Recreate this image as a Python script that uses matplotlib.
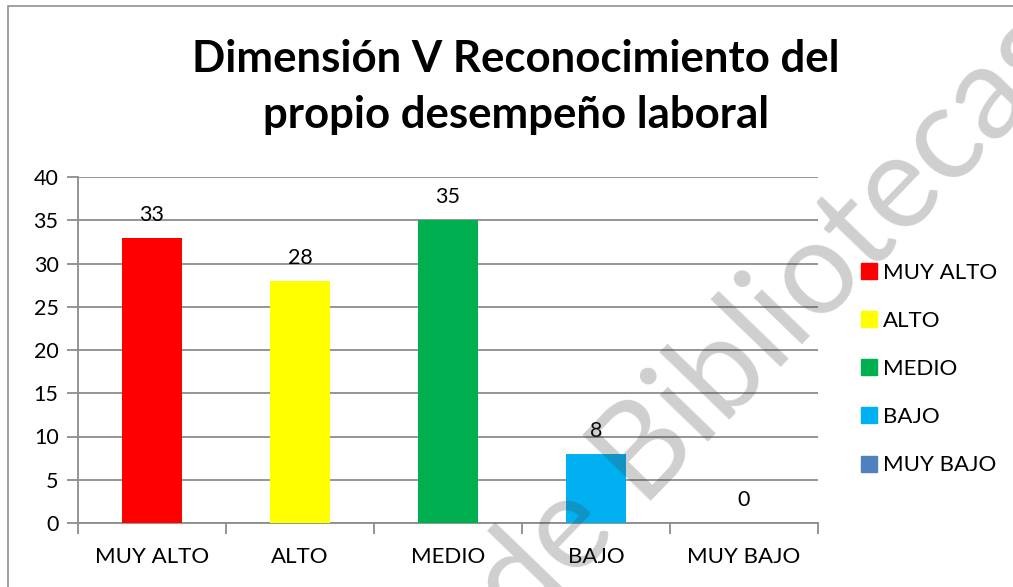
import matplotlib
matplotlib.use("Agg")
import matplotlib.pyplot as plt
from matplotlib.patches import Rectangle
from matplotlib.lines import Line2D

categories = ["MUY ALTO", "ALTO", "MEDIO", "BAJO", "MUY BAJO"]
values = [33, 28, 35, 8, 0]
colors = ["#FF0000", "#FFFF00", "#00B050", "#00B0F0", "#4F81BD"]
title = "Dimensión V Reconocimiento del\npropio desempeño laboral"
yticks = [0, 5, 10, 15, 20, 25, 30, 35, 40]

FONT = ["Lato", "DejaVu Sans"]
plt.rcParams['font.family'] = FONT

W, H = 1013, 587
fig = plt.figure(figsize=(W / 100, H / 100), dpi=100)
fig.patch.set_facecolor("white")

# outer chart border
fig.patches.append(Rectangle((8 / W, -0.1), 1.2, (1 - 6 / H) + 0.1, transform=fig.transFigure,
                             fill=False, edgecolor="#909090", linewidth=1.2))

ax = fig.add_axes([78 / W, 1 - 523 / H, (818 - 78) / W, (523 - 177) / H])
x = list(range(len(categories)))
ax.bar(x, values, width=0.4, color=colors, zorder=3)
for xi, v in zip(x, values):
    ax.text(xi, v + 1.5, str(v), ha="center", va="bottom", fontsize=15.5, color="black")

ax.set_xlim(-0.5, len(categories) - 0.5)
ax.set_ylim(0, 40)
ax.set_yticks(yticks)
ax.set_yticklabels([str(t) for t in yticks], fontsize=15.5)
ax.yaxis.grid(True, color="#8C8C8C", linewidth=1.3, zorder=0)
ax.set_axisbelow(True)
for s in ["top", "right"]:
    ax.spines[s].set_visible(False)
for s in ["left", "bottom"]:
    ax.spines[s].set_color("#8C8C8C")
    ax.spines[s].set_linewidth(1.3)
ax.tick_params(axis="y", length=8, width=1.3, color="#8C8C8C", pad=6)
ax.set_xticks([i - 0.5 for i in range(len(categories) + 1)])
ax.set_xticklabels([])
ax.set_xticks(x, minor=True)
ax.set_xticklabels(categories, minor=True, fontsize=16)
ax.tick_params(axis="x", which="minor", length=0, pad=17)
ax.tick_params(axis="x", which="major", length=8, width=1.3, color="#8C8C8C")

# title (centered on the chart area, two lines at their baselines)
for line, ybase in zip(title.split("\n"), [72, 128]):
    fig.text(516 / W, 1 - ybase / H, line, ha="center", va="baseline", fontsize=31.5,
             fontweight="bold")

handles = [Line2D([0], [0], marker="s", linestyle="none", markersize=11,
                  markerfacecolor=c, markeredgecolor=c) for c in colors]
fig.legend(handles, categories, loc="center left", bbox_to_anchor=(841 / W, 1 - 369 / H),
           frameon=False, fontsize=16, handlelength=0.7, handletextpad=0.3,
           labelspacing=1.27)

# watermark
fig.text(772 / W, 1 - 322 / H, "de Bibliotecas", rotation=46, fontsize=94,
         fontweight="normal", color="#404040", alpha=0.25, ha="center", va="center",
         zorder=10)

fig.savefig("out.png", dpi=100, facecolor="white")
